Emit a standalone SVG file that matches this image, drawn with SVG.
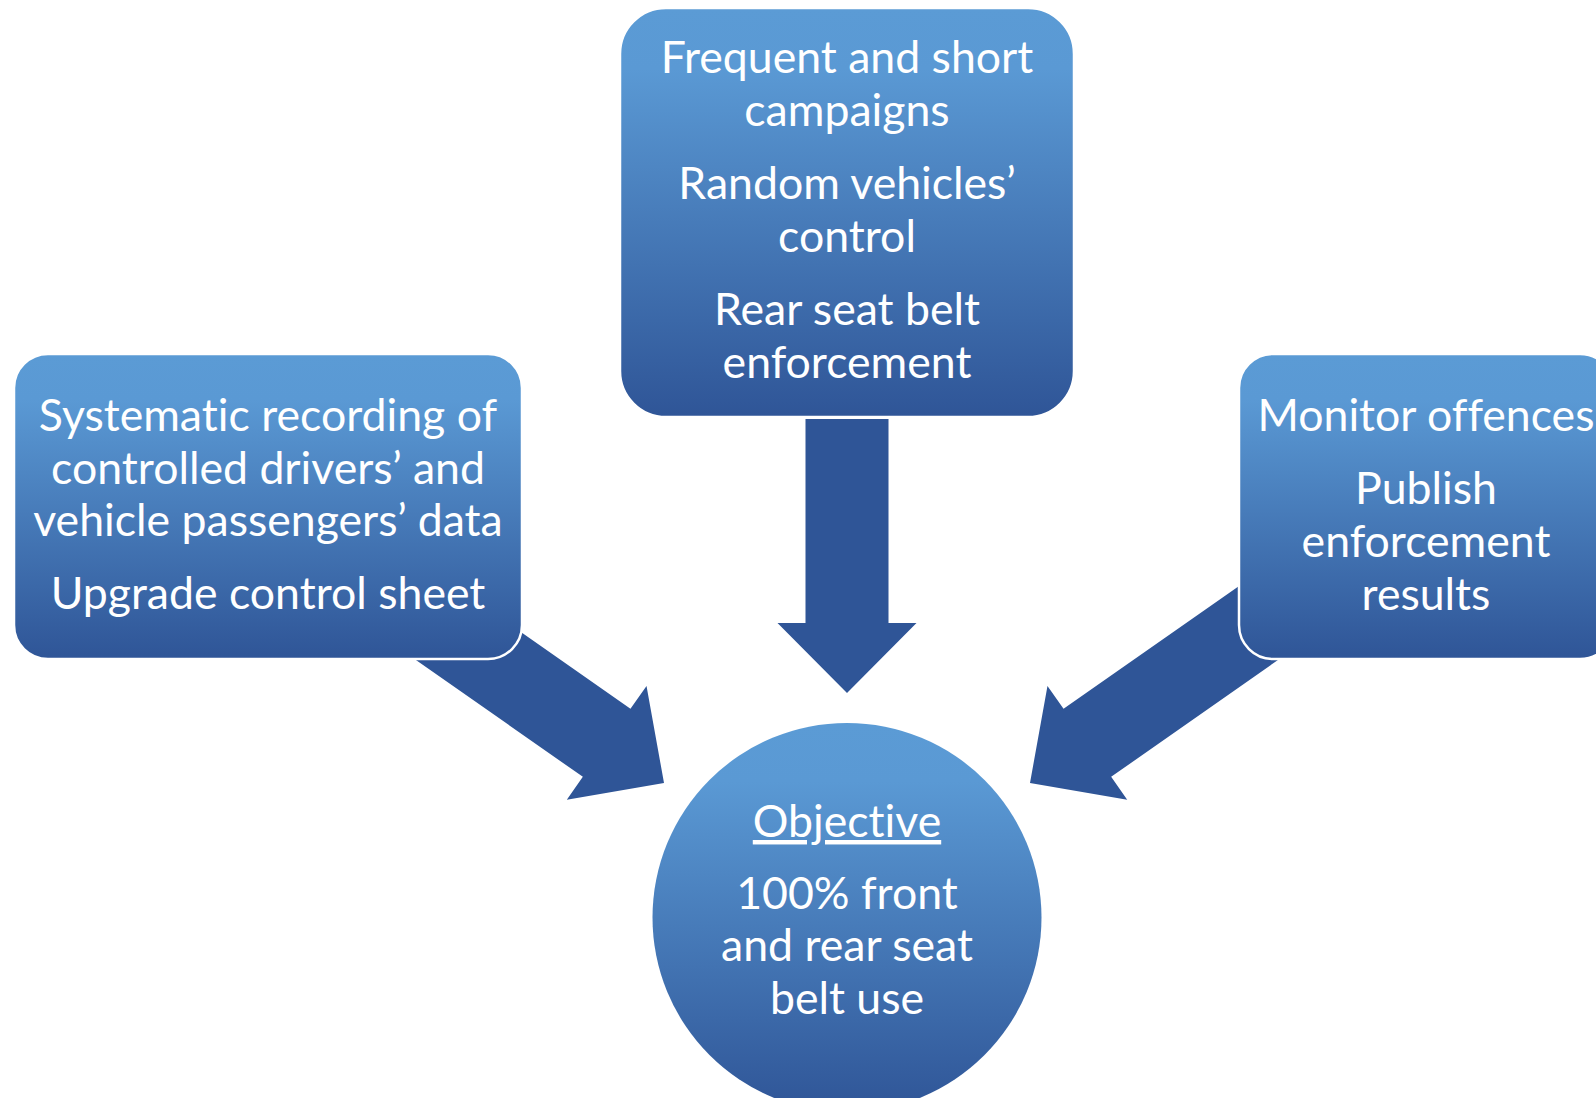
<svg xmlns="http://www.w3.org/2000/svg" width="1596" height="1098" viewBox="0 0 1596 1098">
<defs>
<linearGradient id="g" x1="0" y1="0" x2="0" y2="1">
<stop offset="0" stop-color="#5B9BD5"/>
<stop offset="0.15" stop-color="#5A99D4"/>
<stop offset="1" stop-color="#2F5597"/>
</linearGradient>
<path id="arr" d="M0,0 L-70,-69.5 L-70,-41.5 L-300,-41.5 L-300,41.5 L-70,41.5 L-70,69.5 Z"/>
</defs>
<style>
.box{fill:url(#g);stroke:#FFFFFF;stroke-width:2.5}
.arrow{fill:#2F5597}
.t{font-family:Lato,"Open Sans","Liberation Sans",sans-serif;font-size:44.6px;fill:#FFFFFF;text-anchor:middle;font-variant-ligatures:none;font-feature-settings:"liga" 0}
</style>
<rect width="1596" height="1098" fill="#FFFFFF"/>
<g id="connectors">
<path class="arrow" d="M805.5,419 L888.5,419 L888.5,623 L916.5,623 L847,693 L777.5,623 L805.5,623 Z"/>
<use href="#arr" class="arrow" transform="translate(664,783) rotate(35)"/>
<use href="#arr" class="arrow" transform="translate(1030,783) rotate(145)"/>
</g>
<g id="node-top">
<rect class="box" x="620" y="8" width="454" height="409" rx="46"/>
<text class="t" x="847" y="73">Frequent and short</text>
<text class="t" x="847" y="126">campaigns</text>
<text class="t" x="847" y="199">Random vehicles’</text>
<text class="t" x="847" y="252">control</text>
<text class="t" x="847" y="325">Rear seat belt</text>
<text class="t" x="847" y="378">enforcement</text>
</g>
<g id="node-left">
<rect class="box" x="14" y="354" width="508" height="305" rx="34"/>
<text class="t" x="268" y="431">Systematic recording of</text>
<text class="t" x="268" y="483.5">controlled drivers’ and</text>
<text class="t" x="268" y="536">vehicle passengers’ data</text>
<text class="t" x="268" y="609">Upgrade control sheet</text>
</g>
<g id="node-right">
<rect class="box" x="1239" y="354" width="375" height="305" rx="34"/>
<text class="t" x="1426" y="431">Monitor offences</text>
<text class="t" x="1426" y="504">Publish</text>
<text class="t" x="1426" y="557">enforcement</text>
<text class="t" x="1426" y="610">results</text>
</g>
<g id="node-objective">
<circle cx="847" cy="917.5" r="194.5" fill="url(#g)"/>
<text class="t" x="847" y="837" text-decoration="underline">Objective</text>
<text class="t" x="847" y="909">100% front</text>
<text class="t" x="847" y="961">and rear seat</text>
<text class="t" x="847" y="1014">belt use</text>
</g>
</svg>
